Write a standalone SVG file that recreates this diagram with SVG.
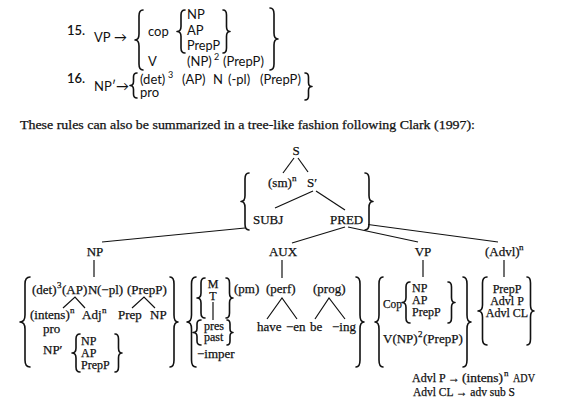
<svg xmlns="http://www.w3.org/2000/svg" width="561" height="408" viewBox="0 0 561 408">
<style>
.r{font-family:Lato,"Open Sans",sans-serif;font-size:13px;fill:#111}
.t{font-family:"Liberation Serif","Times New Roman",serif;font-size:13px;fill:#111;stroke:#111;stroke-width:0.25}
.k{font-size:12px}
.s{font-size:9px}
.m{text-anchor:middle}
.br{fill:none;stroke:#111;stroke-width:1.6;stroke-linecap:round;stroke-linejoin:round}
.ln{fill:none;stroke:#111;stroke-width:1.2}
</style>
<rect width="561" height="408" fill="#fff"/>

<g id="rule15">
<text class="r" x="67" y="35" font-size="12" font-weight="600">15.</text>
<text class="r" x="94" y="42">VP</text>
<text class="r" x="114" y="42">→</text>
<path class="br" d="M143,10 Q139,10 139,16 L139,34 Q139,40 135,40 Q139,40 139,46 L139,64 Q139,70 143,70"/>
<text class="r" x="148" y="36">cop</text>
<path class="br" d="M185,10 Q181,10 181,15 L181,26.5 Q181,31.5 177,31.5 Q181,31.5 181,36.5 L181,48 Q181,53 185,53"/>
<text class="r" x="187" y="19">NP</text>
<text class="r" x="187" y="35">AP</text>
<text class="r" x="187" y="50" textLength="33" lengthAdjust="spacingAndGlyphs">PrepP</text>
<path class="br" d="M223,10 Q226.5,10 226.5,15 L226.5,26.5 Q226.5,31.5 230,31.5 Q226.5,31.5 226.5,36.5 L226.5,48 Q226.5,53 223,53"/>
<text class="r" x="148" y="66">V</text>
<text class="r" x="187" y="66">(NP)</text>
<text class="r s" x="214" y="60">2</text>
<text class="r" x="223" y="66">(PrepP)</text>
<path class="br" d="M270,8 Q274,8 274,14 L274,33 Q274,39 278,39 Q274,39 274,45 L274,64 Q274,70 270,70"/>
</g>

<g id="rule16">
<text class="r" x="67" y="83" font-size="12" font-weight="600">16.</text>
<text class="r" x="94" y="91">NP′</text>
<text class="r" x="116" y="91">→</text>
<path class="br" d="M137,73 Q133.5,73 133.5,77 L133.5,81.5 Q133.5,85.5 130,85.5 Q133.5,85.5 133.5,89.5 L133.5,94 Q133.5,98 137,98"/>
<text class="r" x="140" y="84">(det)</text>
<text class="r s" x="168" y="78">3</text>
<text class="r" x="182" y="84">(AP)</text>
<text class="r" x="213" y="84">N</text>
<text class="r" x="228" y="84">(-pl)</text>
<text class="r" x="260" y="84">(PrepP)</text>
<text class="r" x="140" y="97">pro</text>
<path class="br" d="M305,73 Q308.5,73 308.5,77 L308.5,82.5 Q308.5,86.5 312,86.5 Q308.5,86.5 308.5,90.5 L308.5,96 Q308.5,100 305,100"/>
</g>

<text class="t" x="20" y="129" textLength="455" lengthAdjust="spacingAndGlyphs">These rules can also be summarized in a tree-like fashion  following Clark (1997):</text>

<g id="connectors">
<line class="ln" x1="294" y1="158" x2="283" y2="173"/>
<line class="ln" x1="298" y1="158" x2="308" y2="172"/>
<line class="ln" x1="313" y1="191" x2="275" y2="208"/>
<line class="ln" x1="316" y1="191" x2="345" y2="210"/>
<line class="ln" x1="102" y1="242" x2="245" y2="228"/>
<line class="ln" x1="345" y1="227" x2="292" y2="243"/>
<line class="ln" x1="348" y1="227" x2="418" y2="242"/>
<line class="ln" x1="368" y1="224.5" x2="498" y2="242"/>
<line class="ln" x1="94" y1="260" x2="94" y2="277"/>
<line class="ln" x1="282" y1="260" x2="282" y2="278"/>
<line class="ln" x1="423" y1="260" x2="423" y2="277"/>
<line class="ln" x1="504" y1="260" x2="504" y2="277"/>
<polyline class="ln" points="63,308 75,297 85,308"/>
<polyline class="ln" points="132,308 144,297 155,308"/>
<polyline class="ln" points="267,319 282,298 297,319"/>
<polyline class="ln" points="315,319 329,298 345,319"/>
<line class="ln" x1="213" y1="302" x2="213" y2="320"/>
</g>

<g id="S">
<text class="t m" x="296" y="155">S</text>
<path class="br" d="M249,173 Q245,173 245,179 L245,195.5 Q245,201.5 241,201.5 Q245,201.5 245,207.5 L245,224 Q245,230 249,230"/>
<path class="br" d="M365,173 Q369,173 369,179 L369,195.5 Q369,201.5 373,201.5 Q369,201.5 369,207.5 L369,224 Q369,230 365,230"/>
<text class="t" x="268" y="187">(sm)</text>
<text class="t s" x="292" y="181">n</text>
<text class="t" x="307" y="187">S′</text>
<text class="t" x="253" y="224">SUBJ</text>
<text class="t" x="330" y="224">PRED</text>
</g>

<g id="NP">
<text class="t m" x="95" y="256">NP</text>
<path class="br" d="M30,277 Q25,277 25,284 L25,315 Q25,322 20,322 Q25,322 25,329 L25,360 Q25,367 30,367"/>
<path class="br" d="M170,277 Q174,277 174,284 L174,315 Q174,322 178,322 Q174,322 174,329 L174,360 Q174,367 170,367"/>
<text class="t" x="32" y="294">(det)</text>
<text class="t s" x="57" y="288">3</text>
<text class="t" x="62" y="294">(AP)</text>
<text class="t" x="88" y="294">N</text>
<text class="t" x="97" y="294">(−pl)</text>
<text class="t" x="127" y="294">(PrepP)</text>
<text class="t" x="30" y="319">(intens)</text>
<text class="t s" x="70" y="313">n</text>
<text class="t" x="82" y="319">Adj</text>
<text class="t s" x="102" y="313">n</text>
<text class="t" x="118" y="319">Prep</text>
<text class="t" x="150" y="319">NP</text>
<text class="t" x="43" y="333">pro</text>
<text class="t" x="43" y="354">NP′</text>
<path class="br" d="M80,334 Q76,334 76,339 L76,348 Q76,353 72,353 Q76,353 76,358 L76,367 Q76,372 80,372"/>
<text class="t k" x="81" y="345">NP</text>
<text class="t k" x="81" y="357">AP</text>
<text class="t k" x="81" y="369">PrepP</text>
<path class="br" d="M115,334 Q118.5,334 118.5,339 L118.5,348 Q118.5,353 122,353 Q118.5,353 118.5,358 L118.5,367 Q118.5,372 115,372"/>
</g>

<g id="AUX">
<text class="t m" x="283" y="256">AUX</text>
<path class="br" d="M196,277 Q191.5,277 191.5,284 L191.5,315 Q191.5,322 187,322 Q191.5,322 191.5,329 L191.5,360 Q191.5,367 196,367"/>
<path class="br" d="M356,277 Q360,277 360,284 L360,315 Q360,322 364,322 Q360,322 360,329 L360,360 Q360,367 356,367"/>
<path class="br" d="M205,278 Q201,278 201,283 L201,293 Q201,298 197,298 Q201,298 201,303 L201,313 Q201,318 205,318"/>
<text class="t k m" x="213" y="288">M</text>
<text class="t k m" x="213" y="300">T</text>
<path class="br" d="M226,278 Q229.5,278 229.5,283 L229.5,293 Q229.5,298 233,298 Q229.5,298 229.5,303 L229.5,313 Q229.5,318 226,318"/>
<text class="t" x="234" y="293">(pm)</text>
<text class="t" x="266" y="293">(perf)</text>
<text class="t" x="313" y="293">(prog)</text>
<text class="t" x="257" y="331">have</text>
<text class="t" x="286" y="331">−en</text>
<text class="t" x="310" y="331">be</text>
<text class="t" x="332" y="331">−ing</text>
<path class="br" d="M201,320 Q197,320 197,324 L197,328.5 Q197,332.5 193,332.5 Q197,332.5 197,336.5 L197,341 Q197,345 201,345"/>
<text class="t k" x="204" y="330">pres</text>
<text class="t k" x="204" y="341">past</text>
<path class="br" d="M227,320 Q230,320 230,324 L230,328.5 Q230,332.5 233,332.5 Q230,332.5 230,336.5 L230,341 Q230,345 227,345"/>
<text class="t" x="197" y="358">−imper</text>
</g>

<g id="VP">
<text class="t m" x="423" y="256">VP</text>
<path class="br" d="M383,277 Q379,277 379,284 L379,315 Q379,322 375,322 Q379,322 379,329 L379,360 Q379,367 383,367"/>
<path class="br" d="M463,277 Q467,277 467,284 L467,315 Q467,322 471,322 Q467,322 467,329 L467,360 Q467,367 463,367"/>
<text class="t" x="383" y="308" textLength="19" lengthAdjust="spacingAndGlyphs">Cop</text>
<path class="br" d="M410,282 Q406,282 406,287 L406,297.5 Q406,302.5 402,302.5 Q406,302.5 406,307.5 L406,318 Q406,323 410,323"/>
<text class="t k" x="412" y="292">NP</text>
<text class="t k" x="412" y="304">AP</text>
<text class="t k" x="412" y="316">PrepP</text>
<path class="br" d="M448,282 Q451.5,282 451.5,287 L451.5,297.5 Q451.5,302.5 455,302.5 Q451.5,302.5 451.5,307.5 L451.5,318 Q451.5,323 448,323"/>
<text class="t" x="383" y="343">V(NP)</text>
<text class="t s" x="418" y="337">2</text>
<text class="t" x="423" y="343">(PrepP)</text>
</g>

<g id="Advl">
<text class="t" x="485" y="256">(Advl)</text>
<text class="t s" x="519" y="250">n</text>
<path class="br" d="M487,277 Q482.5,277 482.5,283 L482.5,305 Q482.5,311 478,311 Q482.5,311 482.5,317 L482.5,339 Q482.5,345 487,345"/>
<text class="t k m" x="507" y="293">PrepP</text>
<text class="t k m" x="507" y="305">Advl P</text>
<text class="t k m" x="507" y="317">Advl CL</text>
<path class="br" d="M527,277 Q530.5,277 530.5,283 L530.5,305 Q530.5,311 534,311 Q530.5,311 530.5,317 L530.5,339 Q530.5,345 527,345"/>
</g>

<g id="rules-advl">
<text class="t k" x="412" y="382">Advl P</text>
<text class="t k" x="448" y="382">→</text>
<text class="t k" x="462" y="382" textLength="41" lengthAdjust="spacingAndGlyphs">(intens)</text>
<text class="t s" x="504" y="376">n</text>
<text class="t k" x="513" y="382" textLength="22" lengthAdjust="spacingAndGlyphs">ADV</text>
<text class="t k" x="413" y="396" textLength="102" lengthAdjust="spacingAndGlyphs">Advl CL → adv sub S</text>
</g>
</svg>
